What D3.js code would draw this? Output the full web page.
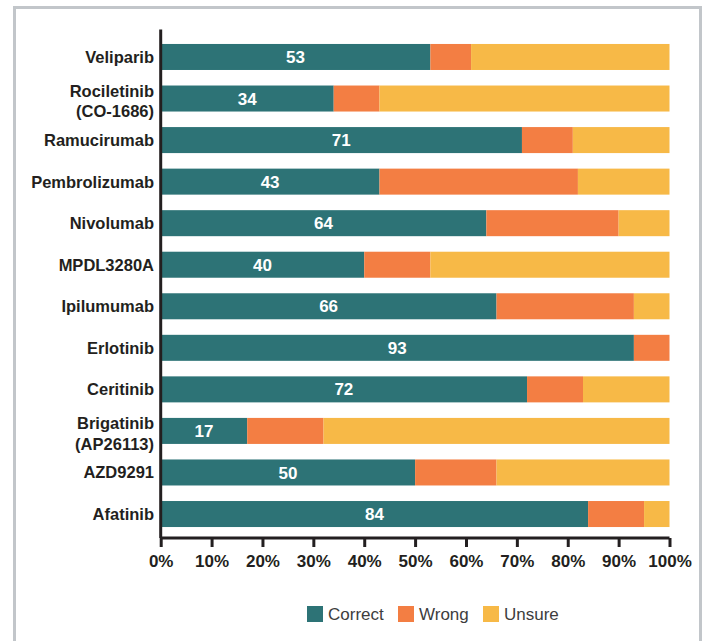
<!DOCTYPE html>
<html>
<head>
<meta charset="utf-8">
<script src="https://cdn.jsdelivr.net/npm/d3@7"></script>
<style>
  html, body { margin: 0; padding: 0; background: #ffffff; }
  svg { display: block; }
</style>
</head>
<body>
<svg id="chart" width="704" height="641"></svg>
<script>
// Drug names (each entry is a list of label lines)
const categories = [
  ["Veliparib"],
  ["Rociletinib", "(CO-1686)"],
  ["Ramucirumab"],
  ["Pembrolizumab"],
  ["Nivolumab"],
  ["MPDL3280A"],
  ["Ipilumumab"],
  ["Erlotinib"],
  ["Ceritinib"],
  ["Brigatinib", "(AP26113)"],
  ["AZD9291"],
  ["Afatinib"]
];

// Share of responses (%) per drug
const correct = [53, 34, 71, 43, 64, 40, 66, 93, 72, 17, 50, 84];
const wrong   = [ 8,  9, 10, 39, 26, 13, 27,  7, 11, 15, 16, 11];
const unsure  = [39, 57, 19, 18, 10, 47,  7,  0, 17, 68, 34,  5];

const seriesNames = ["Correct", "Wrong", "Unsure"];
const seriesColors = ["#2d7376", "#f37e43", "#f7b947"];
const xTicks = [0, 10, 20, 30, 40, 50, 60, 70, 80, 90, 100];

const rows = categories.map((c, i) => ({
  key: c.join(" "),
  lines: c,
  Correct: correct[i],
  Wrong: wrong[i],
  Unsure: unsure[i]
}));

const svg = d3.select("#chart");
const font = "'Liberation Sans', Arial, Helvetica, sans-serif";

// Outer frame
svg.append("rect")
  .attr("x", 14.5).attr("y", 7.5)
  .attr("width", 686).attr("height", 700)
  .attr("fill", "none")
  .attr("stroke", "#c2c6ca")
  .attr("stroke-width", 3);

const x = d3.scaleLinear().domain([0, 100]).range([160.7, 669.5]);
const y = d3.scaleBand()
  .domain(rows.map(r => r.key))
  .range([36.2, 534.8])
  .paddingInner(0.374)
  .paddingOuter(0.187);

const stack = d3.stack().keys(seriesNames);
const layers = stack(rows);

const g = svg.append("g");

g.selectAll("g.layer")
  .data(layers)
  .join("g")
  .attr("class", "layer")
  .attr("fill", (d, i) => seriesColors[i])
  .selectAll("rect")
  .data(d => d)
  .join("rect")
  .attr("x", d => x(d[0]))
  .attr("y", d => y(d.data.key))
  .attr("width", d => x(d[1]) - x(d[0]))
  .attr("height", y.bandwidth());

// Value labels inside the "Correct" segment
g.selectAll("text.val")
  .data(rows)
  .join("text")
  .attr("class", "val")
  .attr("x", d => (x(0) + x(d.Correct)) / 2)
  .attr("y", d => y(d.key) + y.bandwidth() / 2)
  .attr("dy", "0.36em")
  .attr("text-anchor", "middle")
  .attr("fill", "#ffffff")
  .attr("font-family", font)
  .attr("font-weight", "bold")
  .attr("font-size", 17)
  .text(d => d.Correct);

// Category labels
const labels = g.selectAll("text.cat")
  .data(rows)
  .join("text")
  .attr("class", "cat")
  .attr("text-anchor", "end")
  .attr("fill", "#231f20")
  .attr("font-family", font)
  .attr("font-weight", "bold")
  .attr("font-size", 16.5);

labels.each(function(d) {
  const cy = y(d.key) + y.bandwidth() / 2;
  const t = d3.select(this);
  if (d.lines.length === 1) {
    t.append("tspan").attr("x", 154).attr("y", cy).attr("dy", "0.36em").text(d.lines[0]);
  } else {
    t.append("tspan").attr("x", 154).attr("y", cy - 7.5).attr("dy", "0.36em").text(d.lines[0]);
    t.append("tspan").attr("x", 154).attr("y", cy + 13).attr("dy", "0.36em").text(d.lines[1]);
  }
});

// Vertical axis line
g.append("line")
  .attr("x1", x(0)).attr("x2", x(0))
  .attr("y1", 29.5).attr("y2", 538)
  .attr("stroke", "#231f20")
  .attr("stroke-width", 3);

// Horizontal axis
const xAxis = d3.axisBottom(x)
  .tickValues(xTicks)
  .tickSize(9)
  .tickPadding(8)
  .tickFormat(d => d + "%");

const ax = svg.append("g")
  .attr("transform", "translate(0,538)")
  .call(xAxis);

ax.select(".domain")
  .attr("d", `M${x(0)},0H${x(100)}`)
  .attr("stroke", "#231f20")
  .attr("stroke-width", 3);
ax.selectAll(".tick line")
  .attr("stroke", "#231f20")
  .attr("stroke-width", 3);
ax.selectAll(".tick text")
  .attr("fill", "#231f20")
  .attr("font-family", font)
  .attr("font-weight", "bold")
  .attr("font-size", 17);

// Legend
const legendX = [307, 398, 483];
const legend = svg.append("g")
  .selectAll("g")
  .data(seriesNames)
  .join("g")
  .attr("transform", (d, i) => `translate(${legendX[i]},606)`);

legend.append("rect")
  .attr("width", 16).attr("height", 16)
  .attr("fill", (d, i) => seriesColors[i]);

legend.append("text")
  .attr("x", 21).attr("y", 8)
  .attr("dy", "0.36em")
  .attr("fill", "#3d3d3d")
  .attr("font-family", font)
  .attr("font-size", 17)
  .text(d => d);
</script>
</body>
</html>
